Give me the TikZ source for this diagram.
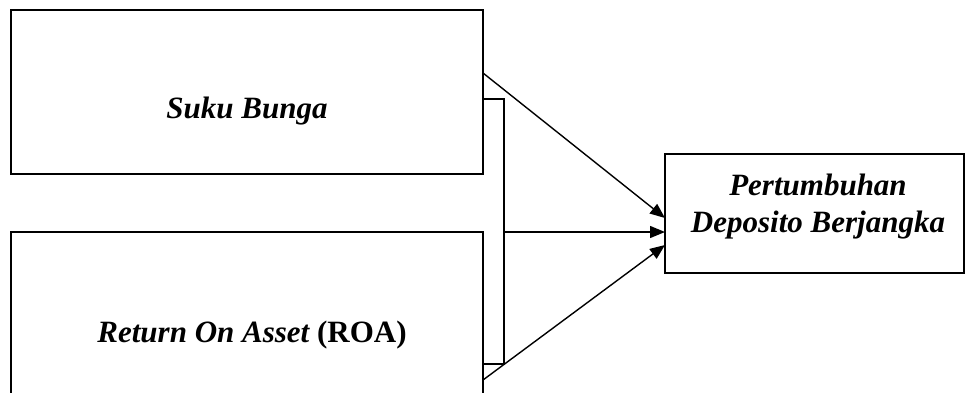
\documentclass[tikz,border=0pt]{standalone}
\usepackage{fontspec}
\setmainfont{Liberation Serif}
\usetikzlibrary{arrows.meta}
\begin{document}
\begin{tikzpicture}[x=1pt,y=1pt,
  box/.style={draw, line width=1.6pt, inner sep=0pt, outer sep=0pt},
  lbl/.style={anchor=base, inner sep=0pt, font=\fontsize{31}{37}\selectfont\bfseries\itshape},
  conn/.style={line width=1.4pt},
  arr/.style={conn, -{Triangle[length=15pt,width=12pt]}}]
\useasboundingbox (0,0) rectangle (966,392);
\clip (0,0) rectangle (966,392);
% the two input variables
\node[box, minimum width=472pt, minimum height=164pt] (b1) at (247,300) {};
\node[box, minimum width=472pt, minimum height=190pt] (b2) at (247,65) {};
% the dependent variable
\node[box, minimum width=299pt, minimum height=119pt] (r) at (814.5,178.5) {};
\node[lbl] (t1) at (247,274) {Suku Bunga};
\node[lbl] (t2) at (252,50) {Return On Asset \upshape(ROA)};
\node[lbl, align=center] (t3) at (818,160) {Pertumbuhan\\Deposito Berjangka};
% joint path linking both inputs
\coordinate (j1) at ([yshift=-7pt]b1.east);
\coordinate (j2) at (504,293);
\coordinate (j3) at (504,28);
\coordinate (j4) at ([yshift=-37pt]b2.east);
\draw[conn] (j1) -- (j2) -- (j3) -- (j4);
% arrows into the dependent variable
\draw[arr] ([yshift=19pt]b1.east) -- ([yshift=-4.5pt]r.west);
\draw[arr] (504,160) -- ([yshift=-18.5pt]r.west);
\draw[arr] ([yshift=-53pt]b2.east) -- ([yshift=-31.5pt]r.west);
\end{tikzpicture}
\end{document}
